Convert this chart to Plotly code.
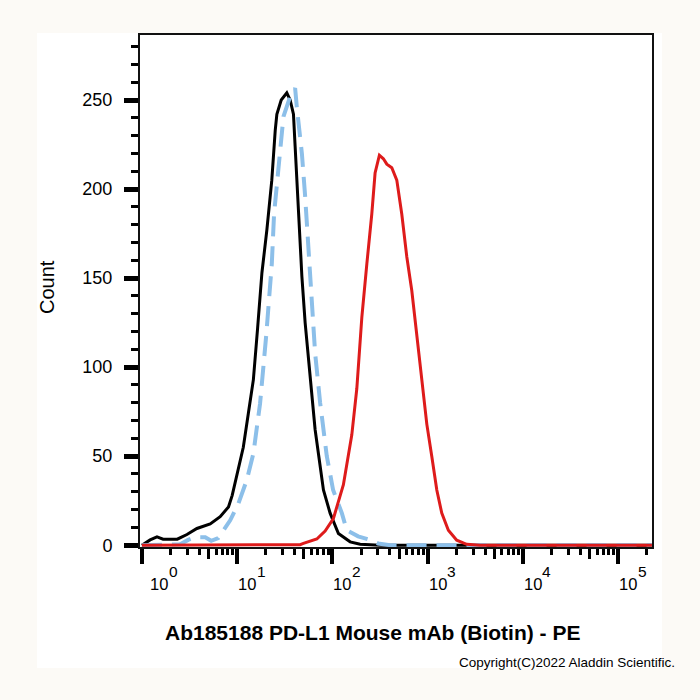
import plotly.graph_objects as go

# ---------------- data ----------------
black_x = [1.0, 1.22, 1.44, 1.67, 2.35, 2.97, 3.78, 5.21, 6.63, 8.11, 8.87, 9.93, 11.6, 13.1,
           14.8, 16.4, 18.2, 20.5, 23.1, 25.1, 26.1, 29.0, 33.2, 36.0, 39.0, 40.6, 44.0, 47.8,
           51.7, 58.4, 65.8, 80.5, 94.6, 115.6, 153.5, 195.4, 316, 2.26e5]
black_y = [0, 3, 4.7, 3.4, 3.4, 6, 9.4, 12, 16, 21.5, 28, 40, 55, 74,
           93, 122, 153, 177, 205, 233, 242, 250, 254, 250, 242, 224, 186, 151,
           125, 93, 65, 31, 18, 6.6, 1.9, 0.5, 0, 0]

blue_x = [1.0, 2.52, 3.06, 3.63, 4.62, 5.34, 6.32, 7.31, 8.45, 10.3, 12.6, 14.8, 17.4, 20.2,
          23.1, 24.4, 27.1, 30.6, 36.0, 40.6, 42.3, 47.8, 51.7, 56.0, 60.8, 65.8, 74.3, 87.3,
          101.7, 125.6, 141.6, 186.2, 248.9, 301.8, 403.6, 2.26e5]
blue_y = [0, 0.5, 3, 4.5, 4.5, 2.5, 4, 9, 14, 23.4, 36.5, 51.5, 79.6, 118,
          158, 186, 214, 240.6, 252, 256.6, 246, 220, 196, 164, 137, 108, 80, 50,
          31, 18, 8.4, 5, 3, 1, 0, 0]

red_x = [1.0, 45.8, 49.6, 68.6, 83.8, 102.4, 130.4, 159.8, 180.4, 203.6, 229.8, 259.0, 280.5,
         311.3, 342.9, 372.4, 420.1, 474.0, 534.6, 603.6, 681.0, 768.9, 867.0, 979.3, 1104,
         1247, 1406, 1649, 2018, 2570, 3548, 2.26e5]
red_y = [0, 0.3, 1, 3.5, 8, 15, 34, 62, 88, 128, 158, 186, 209,
         219, 217, 214, 212, 205, 186, 162, 143, 117, 93, 68, 50,
         31, 18, 8.4, 2.8, 0.5, 0, 0]

x_major_exponents = [0, 1, 2, 3, 4, 5]
x_tick_base = "10"
x_major_vals = [10 ** e for e in x_major_exponents]
x_mid_vals = [5, 50, 500, 5000, 50000]
x_minor_vals = [m * d for d in x_major_vals for m in (2, 3, 4, 6, 7, 8, 9) if m * d < 2.3e5]

y_major_vals = [0, 50, 100, 150, 200, 250]
y_minor_vals = [v for v in range(10, 290, 10) if v % 50 != 0]

x_title = "Ab185188 PD-L1 Mouse mAb (Biotin) - PE"
y_title = "Count"
copyright_text = "Copyright(C)2022 Aladdin Scientific."

# ---------------- figure ----------------
FONT = "Arial, 'Liberation Sans', sans-serif"
L, R, T, B = 140, 48, 35, 153
W, H = 700, 700
pw, ph = W - L - R, H - T - B

def px_x(px):
    return (px - L) / pw

def px_y(py):
    return (H - B - py) / ph

fig = go.Figure()
fig.add_trace(go.Scatter(x=black_x, y=black_y, mode="lines",
                         line=dict(color="#000000", width=3),
                         showlegend=False, hoverinfo="skip"))
fig.add_trace(go.Scatter(x=blue_x, y=blue_y, mode="lines",
                         line=dict(color="#8cbfe9", width=4, dash="20px,10px"),
                         showlegend=False, hoverinfo="skip"))
fig.add_trace(go.Scatter(x=red_x, y=red_y, mode="lines",
                         line=dict(color="#de1b1b", width=3),
                         showlegend=False, hoverinfo="skip"))
# helper trace so the overlay axis (medium ticks) is drawn
fig.add_trace(go.Scatter(x=[1], y=[0], xaxis="x2", mode="markers",
                         marker=dict(opacity=0), showlegend=False, hoverinfo="skip"))

# x tick labels "10^k" drawn as text, offset to the right of each decade tick as in the reference
tick_annots = []
for e in x_major_exponents:
    base_shift, exp_shift = (17, 32) if e == 0 else (10, 24)
    tick_annots.append(dict(text=x_tick_base, xref="x", yref="paper", x=e, xshift=base_shift,
                            y=px_y(584), xanchor="center", yanchor="middle",
                            showarrow=False, font=dict(size=16.5, family=FONT, color="#000000")))
    tick_annots.append(dict(text=str(e), xref="x", yref="paper", x=e, xshift=exp_shift,
                            y=px_y(571), xanchor="center", yanchor="middle",
                            showarrow=False, font=dict(size=15.5, family=FONT, color="#000000")))

xrange = [-0.02, 5.355]
fig.update_layout(
    width=W, height=H,
    margin=dict(l=L, r=R, t=T, b=B, pad=0),
    paper_bgcolor="#fcfaf6",
    plot_bgcolor="#ffffff",
    font=dict(family=FONT, color="#000000"),
    xaxis=dict(
        type="log", range=xrange,
        tickmode="array", tickvals=x_major_vals, showticklabels=False,
        ticks="outside", ticklen=15, tickwidth=4, tickcolor="#000000",
        showline=True, linecolor="#111111", linewidth=2, mirror=True,
        showgrid=False, zeroline=False,
        minor=dict(tickmode="array", tickvals=x_minor_vals, ticks="outside",
                   ticklen=6, tickwidth=2.5, tickcolor="#000000", showgrid=False),
    ),
    xaxis2=dict(
        type="log", range=xrange, overlaying="x", anchor="y", side="bottom",
        tickmode="array", tickvals=x_mid_vals, ticks="outside",
        ticklen=10, tickwidth=3, tickcolor="#000000",
        showticklabels=False, showline=True, linecolor="#111111", linewidth=2,
        showgrid=False, zeroline=False,
    ),
    yaxis=dict(
        range=[-1, 286.5],
        tickmode="array", tickvals=y_major_vals,
        ticks="outside", ticklen=14, tickwidth=4.5, tickcolor="#000000",
        tickfont=dict(size=18, family=FONT, color="#000000"),
        ticklabelstandoff=8,
        showline=True, linecolor="#111111", linewidth=2, mirror=True,
        showgrid=False, zeroline=False,
        minor=dict(tickmode="array", tickvals=y_minor_vals, ticks="outside",
                   ticklen=7, tickwidth=2.5, tickcolor="#000000", showgrid=False),
    ),
    shapes=[dict(type="rect", xref="paper", yref="paper", layer="below",
                 x0=px_x(37), x1=px_x(662), y0=px_y(668), y1=px_y(33),
                 fillcolor="#ffffff", line=dict(width=0))],
    annotations=tick_annots + [
        dict(text=y_title, xref="paper", yref="paper", x=px_x(47), y=px_y(287),
             xanchor="center", yanchor="middle", textangle=-90, showarrow=False,
             font=dict(size=20, family=FONT, color="#000000")),
        dict(text="<b>" + x_title + "</b>", xref="paper", yref="paper",
             x=px_x(372), y=px_y(632), xanchor="center", yanchor="middle",
             showarrow=False, font=dict(size=21, family=FONT, color="#000000")),
        dict(text=copyright_text, xref="paper", yref="paper",
             x=px_x(677), y=px_y(662), xanchor="right", yanchor="middle",
             showarrow=False, font=dict(size=13.5, family=FONT, color="#000000")),
    ],
)

fig.write_html("out.html")
